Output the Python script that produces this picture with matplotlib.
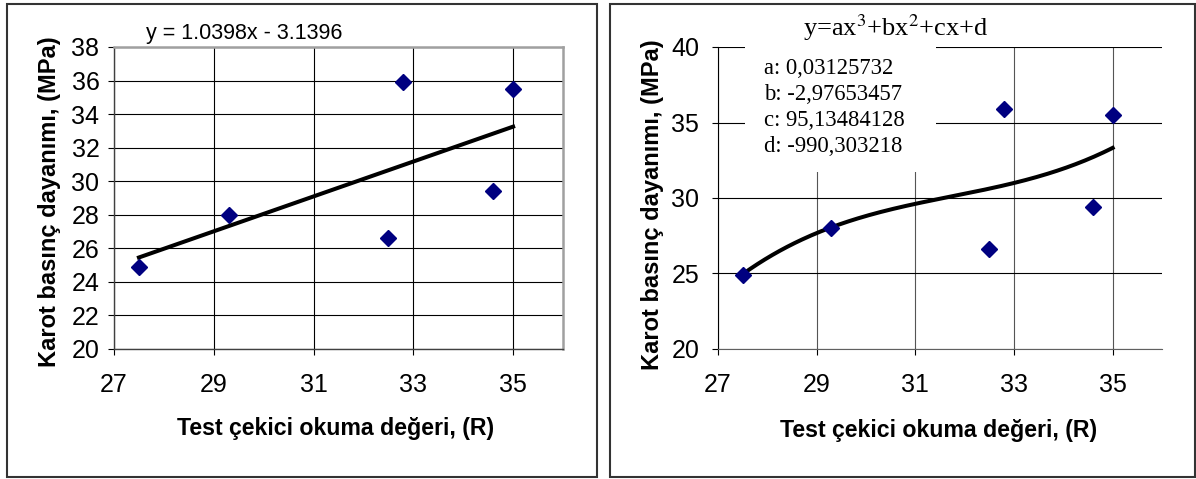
import matplotlib
matplotlib.use("Agg")
import matplotlib.pyplot as plt
from matplotlib.patches import Rectangle
import numpy as np

plt.rcParams["font.family"] = ["Liberation Sans", "DejaVu Sans"]
plt.rcParams["mathtext.fontset"] = "stix"

# Data
rebound = [27.5, 29.3, 32.5, 32.8, 34.6, 35.0]
strength = [24.9, 28.0, 26.6, 35.9, 29.4, 35.5]

# Fit coefficients printed on the chart
lin_slope, lin_icpt = 1.0398, -3.1396
cubic = [0.03125732, -2.97653457, 95.13484128, -990.303218]

x_ticks = [27, 29, 31, 33, 35]
left_yticks = [20, 22, 24, 26, 28, 30, 32, 34, 36, 38]
right_yticks = [20, 25, 30, 35, 40]

W, H = 1196, 479
fig = plt.figure(figsize=(W / 100, H / 100), dpi=100)


def fx(px):
    return px / W


def fy(py):
    return 1 - py / H


# outer frames of the two panels
for x0, x1 in [(7, 597), (610, 1195)]:
    fig.patches.append(Rectangle((fx(x0), fy(477)), fx(x1 - x0), (477 - 4) / H,
                                 transform=fig.transFigure, fill=False,
                                 edgecolor="#333333", linewidth=1.5))

marker_kw = dict(marker="D", color="#000080", markersize=8, linestyle="none", zorder=5)
xs = np.linspace(27.5, 35.0, 200)

# ---- left panel: linear fit
ax1 = fig.add_axes([fx(114), fy(349), fx(563 - 114), (349 - 47) / H])
ax1.set_xlim(27, 36)
ax1.set_ylim(20, 38)
ax1.set_xticks(x_ticks)
ax1.set_yticks(left_yticks)
ax1.set_axisbelow(True)
ax1.grid(True, color="black", linewidth=0.8)
ax1.plot(xs, lin_slope * xs + lin_icpt, color="black", linewidth=2.9, zorder=4)
ax1.plot(rebound, strength, **marker_kw)
for s in ["top", "right"]:
    ax1.spines[s].set_color("#a0a0a0")
    ax1.spines[s].set_linewidth(1.8)
for s in ["left", "bottom"]:
    ax1.spines[s].set_color("#404040")
    ax1.spines[s].set_linewidth(1.0)
ax1.tick_params(axis="y", length=4.5, pad=6, labelsize=18)
ax1.tick_params(axis="x", length=4.5, pad=13, labelsize=18)
fig.text(fx(244), fy(33), "y = 1.0398x - 3.1396", fontsize=15.5, ha="center", va="center")
fig.text(fx(50), fy(202), "Karot basınç dayanımı, (MPa)", rotation=90, fontsize=17,
         fontweight="bold", ha="center", va="center")
fig.text(fx(336), fy(428), "Test çekici okuma değeri, (R)", fontsize=16.7,
         fontweight="bold", ha="center", va="center")

# ---- right panel: cubic fit
ax2 = fig.add_axes([fx(718), fy(349), fx(1162 - 718), (349 - 47) / H])
ax2.set_xlim(27, 36)
ax2.set_ylim(20, 40)
ax2.set_xticks(x_ticks)
ax2.set_yticks(right_yticks)
ax2.set_axisbelow(True)
ax2.grid(True, axis="y", color="black", linewidth=0.8)
ax2.grid(True, axis="x", color="#555555", linewidth=0.8)
ax2.plot(xs, np.polyval(cubic, xs), color="black", linewidth=2.9, zorder=4)
ax2.plot(rebound, strength, **marker_kw)
ax2.spines["top"].set_visible(False)
ax2.spines["right"].set_visible(False)
ax2.spines["left"].set_color("black")
ax2.spines["bottom"].set_color("#606060")
ax2.tick_params(axis="y", length=4.5, pad=9, labelsize=18)
ax2.tick_params(axis="x", length=4.5, pad=13, labelsize=18)

# white box behind the coefficient block
ax2.add_patch(Rectangle((fx(745), fy(172)), fx(936 - 745), (172 - 40) / H,
                        transform=fig.transFigure, facecolor="white", edgecolor="none",
                        zorder=1.5, clip_on=False))
fig.text(fx(896), fy(28), r"y=ax$^3$+bx$^2$+cx+d", fontsize=19, family="Liberation Serif",
         ha="center", va="center")
coef_lines = ["a: 0,03125732", "b: -2,97653457", "c: 95,13484128", "d: -990,303218"]
for i, line in enumerate(coef_lines):
    fig.text(fx(764), fy(68 + 26 * i), line, fontsize=16.3, family="Liberation Serif",
             ha="left", va="center")
fig.text(fx(652), fy(205), "Karot basınç dayanımı, (MPa)", rotation=90, fontsize=17,
         fontweight="bold", ha="center", va="center")
fig.text(fx(939), fy(430), "Test çekici okuma değeri, (R)", fontsize=16.7,
         fontweight="bold", ha="center", va="center")

fig.savefig("out.png", dpi=100)
